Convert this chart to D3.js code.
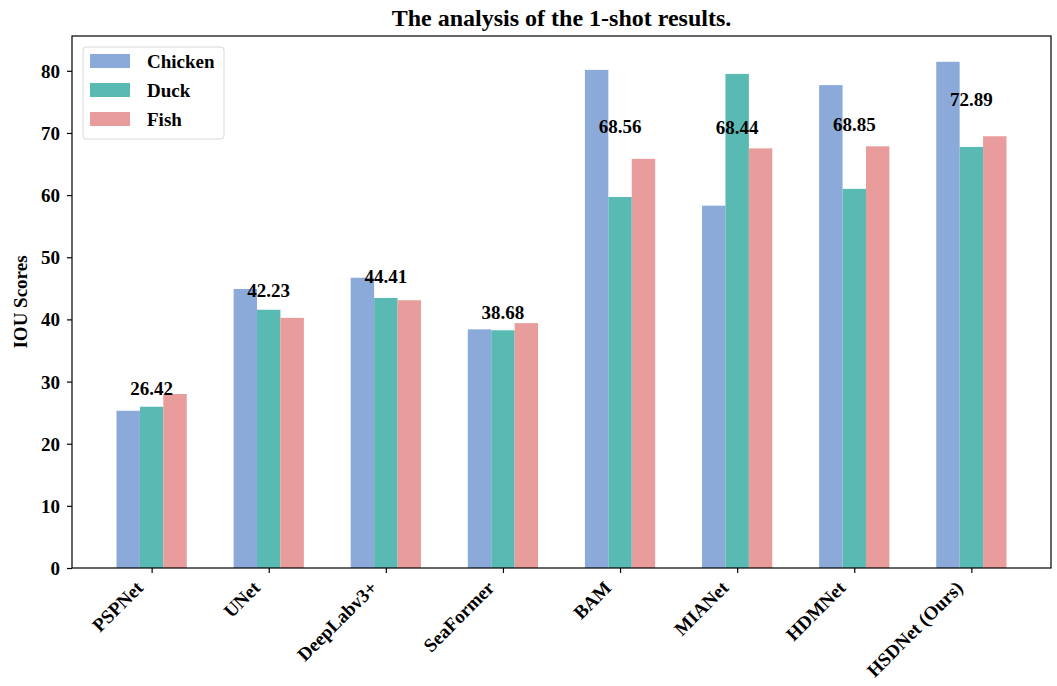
<!DOCTYPE html>
<html>
<head>
<meta charset="utf-8">
<script src="https://cdn.jsdelivr.net/npm/d3@7"></script>
<style>
  html, body { margin: 0; padding: 0; background: #fff; }
  svg { display: block; font-family: "Liberation Serif", "Times New Roman", serif; font-weight: bold; }
</style>
</head>
<body>
<svg id="chart" width="1057" height="686"></svg>
<script>
// Methods compared in the 1-shot setting
const methods = ["PSPNet", "UNet", "DeepLabv3+", "SeaFormer", "BAM", "MIANet", "HDMNet", "HSDNet (Ours)"];
const seriesNames = ["Chicken", "Duck", "Fish"];
const chicken = [25.3, 44.9, 46.7, 38.4, 80.15, 58.3, 77.7, 81.45];
const duck    = [25.95, 41.55, 43.45, 38.25, 59.7, 79.5, 61.0, 67.75];
const fish    = [28.0, 40.25, 43.08, 39.4, 65.83, 67.52, 67.85, 69.47];
// Mean IoU over the three classes, printed above each group
const averages = [26.42, 42.23, 44.41, 38.68, 68.56, 68.44, 68.85, 72.89];
const yTicks = [0, 10, 20, 30, 40, 50, 60, 70, 80];

const colors = ["#8BAAD9", "#59BAB3", "#E99C9C"];
const series = [chicken, duck, fish];

const svg = d3.select("#chart");
const plotL = 72, plotR = 1051, plotT = 36, plotB = 568;

const x = d3.scaleLinear().domain([-0.68, methods.length - 1 + 0.68]).range([plotL, plotR]);
const y = d3.scaleLinear().domain([0, 85.6]).range([plotB, plotT]);
const barW = 0.2;

// Bars
series.forEach((vals, s) => {
  svg.append("g").selectAll("rect")
    .data(vals)
    .join("rect")
    .attr("x", (d, i) => x(i + (s - 1) * barW - barW / 2))
    .attr("width", x(barW) - x(0))
    .attr("y", d => y(d))
    .attr("height", d => y(0) - y(d))
    .attr("fill", colors[s]);
});

// Average labels
svg.append("g").selectAll("text")
  .data(averages)
  .join("text")
  .attr("x", (d, i) => x(i))
  .attr("y", d => y(d + 1) - 2.5)
  .attr("text-anchor", "middle")
  .attr("font-size", 19)
  .attr("fill", "#000")
  .text(d => d.toFixed(2));

// Y axis
const yAxis = svg.append("g")
  .attr("transform", `translate(${plotL},0)`)
  .call(d3.axisLeft(y).tickValues(yTicks).tickSize(5).tickPadding(7).tickFormat(d3.format("d")))
  .attr("font-family", null).attr("font-size", 19);
yAxis.select(".domain").remove();
yAxis.selectAll("text").attr("fill", "#000").attr("dy", "0.34em");
yAxis.selectAll("line").attr("stroke", "#000").attr("stroke-width", 1.2);

// X axis
const xAxis = svg.append("g")
  .attr("transform", `translate(0,${plotB})`)
  .call(d3.axisBottom(x).tickValues(d3.range(methods.length)).tickSize(5).tickFormat(i => methods[i]))
  .attr("font-family", null).attr("font-size", 19);
xAxis.select(".domain").remove();
xAxis.selectAll("line").attr("stroke", "#000").attr("stroke-width", 1.2);
xAxis.selectAll("text")
  .attr("fill", "#000")
  .attr("text-anchor", "end")
  .attr("y", 0).attr("dy", 0)
  .attr("transform", "translate(-8,21) rotate(-45)");

// Frame
svg.append("rect")
  .attr("x", plotL).attr("y", plotT)
  .attr("width", plotR - plotL).attr("height", plotB - plotT)
  .attr("fill", "none").attr("stroke", "#000").attr("stroke-width", 1.2);

// Title and y label
svg.append("text")
  .attr("x", (plotL + plotR) / 2).attr("y", 26)
  .attr("text-anchor", "middle").attr("font-size", 24)
  .text("The analysis of the 1-shot results.");

svg.append("text")
  .attr("transform", `translate(27,${(plotT + plotB) / 2}) rotate(-90)`)
  .attr("text-anchor", "middle").attr("font-size", 19)
  .text("IOU Scores");

// Legend
const lg = svg.append("g").attr("transform", "translate(83,47)");
lg.append("rect")
  .attr("width", 141).attr("height", 92).attr("rx", 3)
  .attr("fill", "#fff").attr("fill-opacity", 0.8)
  .attr("stroke", "#d8d8d8").attr("stroke-width", 1);
seriesNames.forEach((name, i) => {
  const cy = 14 + i * 29;
  lg.append("rect").attr("x", 7).attr("y", cy - 7).attr("width", 40).attr("height", 14).attr("fill", colors[i]);
  lg.append("text").attr("x", 64).attr("y", cy + 7).attr("font-size", 19).text(name);
});
</script>
</body>
</html>
